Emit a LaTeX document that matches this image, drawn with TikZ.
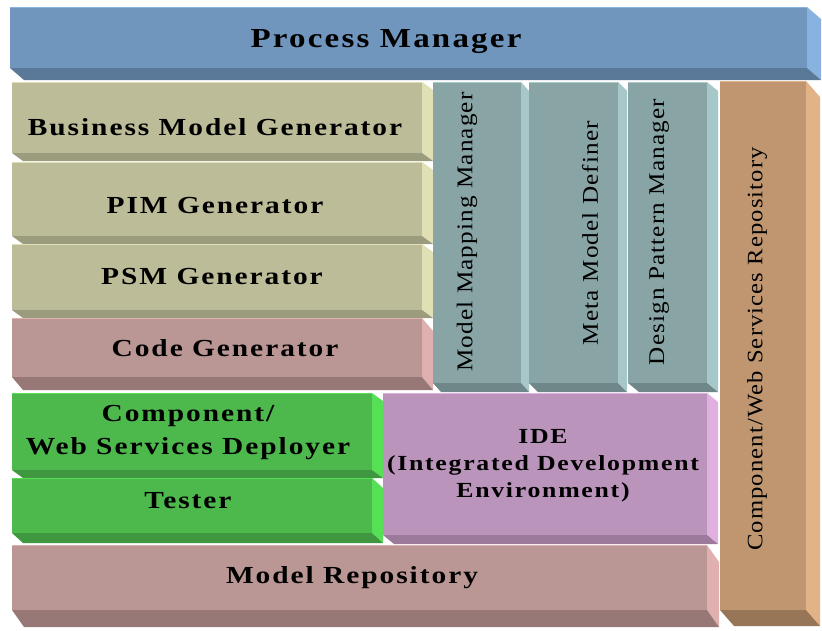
\documentclass[tikz,border=0pt]{standalone}
\usepackage{fontspec}
\newfontfamily\lblfont[FakeStretch=1.2,LetterSpace=8]{Liberation Serif}
\newfontfamily\vlblfont[FakeStretch=1.12,LetterSpace=5]{Liberation Serif}
\definecolor{pmF}{HTML}{7096BE}\definecolor{pmS}{HTML}{88B3E0}\definecolor{pmB}{HTML}{5A7898}
\definecolor{olF}{HTML}{BDBC99}\definecolor{olS}{HTML}{E1E0B4}\definecolor{olB}{HTML}{9B9B7E}
\definecolor{rsF}{HTML}{BA9694}\definecolor{rsS}{HTML}{E0B0B0}\definecolor{rsB}{HTML}{977877}
\definecolor{tlF}{HTML}{88A4A5}\definecolor{tlS}{HTML}{A6C8C9}\definecolor{tlB}{HTML}{6F8788}
\definecolor{orF}{HTML}{BF9670}\definecolor{orS}{HTML}{E2B386}\definecolor{orB}{HTML}{967656}
\definecolor{grF}{HTML}{4DB94D}\definecolor{grS}{HTML}{56E056}\definecolor{grB}{HTML}{3F973F}
\definecolor{idF}{HTML}{BA94BA}\definecolor{idS}{HTML}{E0B0E0}\definecolor{idB}{HTML}{9B7A9B}
% #1 name, #2 x1, #3 y1, #4 x2, #5 y2, #6 dx, #7 dy, #8 colour prefix
\newcommand\threedbox[8]{%
  \fill[#8S] (#4,#3) -- ({#4+#6},{#3+#7}) -- ({#4+#6},{#5+#7}) -- (#4,#5) -- cycle;
  \fill[#8B] (#2,#5) -- ({#2+#6},{#5+#7}) -- ({#4+#6},{#5+#7}) -- (#4,#5) -- cycle;
  \node[facebox, fill=#8F, minimum width={#4pt-#2pt}, minimum height={#5pt-#3pt}]
    (#1) at ({(#2+#4)/2},{(#3+#5)/2}) {};
  \draw[#8S, line width=1pt] ([yshift=-0.5pt]#1.north west) -- ([yshift=-0.5pt]#1.north east);
}
\tikzset{
  facebox/.style={draw=none, inner sep=0pt, outer sep=0pt, rectangle},
  hlabel/.style={font=\lblfont\bfseries\fontsize{24.5}{33}\selectfont, align=center, inner sep=0pt},
  vlabel/.style={font=\vlblfont\fontsize{22.5}{26}\selectfont, rotate=90, inner sep=0pt},
}
\begin{document}
\begin{tikzpicture}[x=1pt,y=-1pt]
\useasboundingbox (0,0) rectangle (822,630);
\fill[white] (0,0) rectangle (822,630);
% top
\threedbox{pm}{10}{7}{807}{68}{14}{12}{pm}
% left stack
\threedbox{bmg}{12}{82}{422}{153}{11}{8}{ol}
\threedbox{pim}{12}{162}{422}{236}{11}{8}{ol}
\threedbox{psm}{12}{244}{422}{310}{11}{8}{ol}
\threedbox{code}{12}{318}{422}{377}{11}{13}{rs}
% vertical columns
\threedbox{mmm}{433}{82}{521}{383}{8}{9}{tl}
\threedbox{mmd}{529}{82}{618}{383}{9}{9}{tl}
\threedbox{dpm}{628}{82}{707}{383}{11}{9}{tl}
% lower
\threedbox{mrep}{12}{545}{707}{610}{12}{17}{rs}
\threedbox{dep}{12}{393}{372}{470}{11}{8}{gr}
\threedbox{test}{12}{478}{372}{533}{11}{10}{gr}
\threedbox{ide}{383}{393}{707}{535}{11}{9}{id}
\threedbox{crep}{720}{81}{806}{610}{14}{16}{or}
% labels
\node[hlabel, font=\lblfont\bfseries\fontsize{27.5}{30}\selectfont] (tpm) at (386,42) {Process Manager};
\node[hlabel] (tbmg) at (215,127) {Business Model Generator};
\node[hlabel] (tpim) at (215,206) {PIM Generator};
\node[hlabel] (tpsm) at (212,277) {PSM Generator};
\node[hlabel] (tcode) at (225,348) {Code Generator};
\node[hlabel] (tdep) at (188,433) {Component/\\Web Services Deployer};
\node[hlabel] (ttest) at (188,501) {Tester};
\node[hlabel, font=\lblfont\bfseries\fontsize{21.5}{27}\selectfont] (tide) at (543,466) {IDE\\(Integrated Development\\Environment)};
\node[hlabel] (tmrep) at (352,578) {Model Repository};
\node[vlabel] (tmmm) at (467,232) {Model Mapping Manager};
\node[vlabel] (tmmd) at (590,233) {Meta Model Definer};
\node[vlabel] (tdpm) at (659,232) {Design Pattern Manager};
\node[vlabel, font=\vlblfont\fontsize{22}{26}\selectfont] (tcrep) at (757,349) {Component/Web Services Repository};
\end{tikzpicture}
\end{document}
